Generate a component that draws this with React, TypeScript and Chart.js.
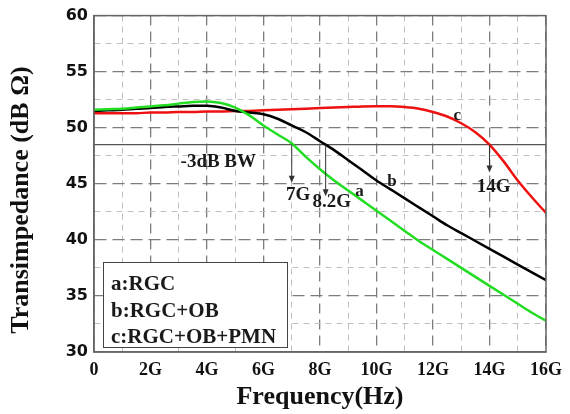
import React, { useEffect, useRef } from 'react';
import { Chart, registerables } from 'chart.js';
Chart.register(...registerables);

// Frequency in GHz
const freqG = [0, 0.5, 1, 1.5, 2, 2.5, 3, 3.5, 4, 4.5, 5, 5.5, 6, 6.5, 7, 7.5, 8, 8.5, 9, 9.5, 10, 10.5, 11, 11.5, 12, 12.5, 13, 13.5, 14, 14.5, 15, 15.5, 16];
// a: RGC (green)
const seriesA = [51.6, 51.65, 51.7, 51.8, 51.9, 52.0, 52.15, 52.3, 52.35, 52.2, 51.8, 51.1, 50.2, 49.4, 48.6, 47.4, 46.3, 45.3, 44.4, 43.5, 42.6, 41.7, 40.8, 39.9, 39.1, 38.3, 37.5, 36.7, 35.9, 35.1, 34.3, 33.5, 32.8];
// b: RGC+OB (black)
const seriesB = [51.5, 51.55, 51.6, 51.7, 51.75, 51.85, 51.9, 51.95, 51.95, 51.8, 51.5, 51.35, 51.2, 50.8, 50.2, 49.6, 48.8, 48.0, 47.1, 46.2, 45.3, 44.5, 43.7, 42.9, 42.1, 41.3, 40.6, 39.9, 39.2, 38.5, 37.8, 37.1, 36.4];
// c: RGC+OB+PMN (red)
const seriesC = [51.3, 51.3, 51.3, 51.3, 51.35, 51.35, 51.4, 51.4, 51.45, 51.45, 51.5, 51.5, 51.55, 51.6, 51.65, 51.7, 51.75, 51.8, 51.85, 51.9, 51.92, 51.92, 51.85, 51.7, 51.4, 51.0, 50.4, 49.6, 48.5, 47.0, 45.3, 43.8, 42.4];

const bwLevel = 48.5;
const bwRange = [0, 16];

const legendLines = ['a:RGC', 'b:RGC+OB', 'c:RGC+OB+PMN'];

const arrowFreq = [7, 8.2, 14];
const arrowTip = [45.1, 43.9, 46.0];

const noteText = ['-3dB BW', '7G', '8.2G', '14G', 'a', 'b', 'c'];
const noteX = [4.4, 7.23, 8.42, 14.15, 9.4, 10.55, 12.86];
const noteY = [46.9, 44.0, 43.4, 44.7, 44.3, 45.2, 51.1];

const xTitle = 'Frequency(Hz)';
const yTitle = 'Transimpedance (dB Ω)     ';

const SERIF = '"Liberation Serif", "Times New Roman", serif';

const overlay = {
  id: 'overlay',
  afterDatasetsDraw(chart: any) {
    const { ctx, chartArea, scales } = chart;
    const xs = scales.x, ys = scales.y;
    ctx.save();
    // arrows
    ctx.strokeStyle = '#333';
    ctx.fillStyle = '#333';
    ctx.lineWidth = 1;
    arrowFreq.forEach((f, i) => {
      const px = xs.getPixelForValue(f);
      const y0 = ys.getPixelForValue(bwLevel);
      const y1 = ys.getPixelForValue(arrowTip[i]);
      ctx.beginPath();
      ctx.moveTo(px, y0);
      ctx.lineTo(px, y1 - 6);
      ctx.stroke();
      ctx.beginPath();
      ctx.moveTo(px - 3, y1 - 7);
      ctx.lineTo(px + 3, y1 - 7);
      ctx.lineTo(px, y1);
      ctx.closePath();
      ctx.fill();
    });
    // notes
    ctx.fillStyle = '#1a1a1a';
    ctx.textAlign = 'center';
    ctx.textBaseline = 'middle';
    noteText.forEach((t, i) => {
      ctx.font = (t.length === 1 ? 'bold 17px ' : 'bold 19px ') + SERIF;
      ctx.fillText(t, xs.getPixelForValue(noteX[i]), ys.getPixelForValue(noteY[i]));
    });
    // frame
    ctx.strokeStyle = '#666';
    ctx.lineWidth = 1.5;
    ctx.strokeRect(chartArea.left, chartArea.top, chartArea.right - chartArea.left, chartArea.bottom - chartArea.top);
    // legend box
    const bx = chartArea.left + 9;
    const by = chartArea.bottom - 90;
    const bw = 184, bh = 85;
    ctx.fillStyle = '#fff';
    ctx.fillRect(bx, by, bw, bh);
    ctx.strokeStyle = '#444';
    ctx.lineWidth = 1;
    ctx.strokeRect(bx + 0.5, by + 0.5, bw, bh);
    ctx.fillStyle = '#1a1a1a';
    ctx.textAlign = 'left';
    ctx.font = 'bold 21px ' + SERIF;
    legendLines.forEach((t, i) => {
      ctx.fillText(t, bx + 8, by + 23 + i * 26.5);
    });
    ctx.restore();
  },
};

export default function App() {
  const ref = useRef<HTMLCanvasElement>(null);
  useEffect(() => {
    if (!ref.current) return;
    const mk = (ys: number[]) => freqG.map((x, i) => ({ x, y: ys[i] }));
    const isMajorX = (v: number) => Math.abs(v % 2) < 1e-6;
    const isMajorY = (v: number) => Math.abs(v % 5) < 1e-6;
    const chart = new Chart(ref.current, {
      type: 'line',
      data: {
        datasets: [
          { label: 'a', data: mk(seriesA), borderColor: '#22dd22', borderWidth: 2.5, pointRadius: 0, tension: 0.4, cubicInterpolationMode: 'monotone' },
          { label: 'b', data: mk(seriesB), borderColor: '#000000', borderWidth: 2.5, pointRadius: 0, tension: 0.4, cubicInterpolationMode: 'monotone' },
          { label: 'c', data: mk(seriesC), borderColor: '#ee1111', borderWidth: 2.5, pointRadius: 0, tension: 0.4, cubicInterpolationMode: 'monotone' },
          { label: 'bw', data: bwRange.map((x) => ({ x, y: bwLevel })), borderColor: '#555', borderWidth: 1.3, pointRadius: 0 },
        ],
      } as any,
      options: {
        responsive: false,
        animation: false,
        layout: { padding: { top: 15, right: 18, bottom: 0, left: 0 } },
        plugins: { legend: { display: false }, tooltip: { enabled: false } },
        scales: {
          x: {
            type: 'linear',
            min: 0,
            max: 16,
            afterFit: (s: any) => { s.height = 62; },
            ticks: {
              stepSize: 1,
              autoSkip: false,
              maxRotation: 0,
              padding: 8,
              color: '#111',
              font: { family: SERIF, weight: 'bold', size: 18 },
              callback: (v: any) => (isMajorX(v) ? (v === 0 ? '0' : v + 'G') : ''),
            },
            grid: {
              drawTicks: false,
              color: (c: any) => (isMajorX(c.tick.value) ? '#7c7c7c' : '#c0c0c0'),
              lineWidth: (c: any) => (isMajorX(c.tick.value) ? 1.3 : 1),
            },
            border: {
              display: true,
              color: '#666',
              width: 1.5,
              dash: (c: any) => (c.tick && isMajorX(c.tick.value) ? [10, 6] : [6, 5]),
            },
            title: {
              display: true,
              text: xTitle,
              color: '#111',
              font: { family: SERIF, weight: 'bold', size: 26 },
              padding: { top: 0, bottom: 1 },
            },
          },
          y: {
            type: 'linear',
            min: 30,
            max: 60,
            afterFit: (s: any) => { s.width = 94; },
            ticks: {
              stepSize: 2.5,
              autoSkip: false,
              padding: 6,
              color: '#111',
              font: { family: '"DejaVu Sans", sans-serif', weight: 'bold', size: 16 },
              callback: (v: any) => (isMajorY(v) ? String(v) : ''),
            },
            grid: {
              drawTicks: false,
              color: (c: any) => (isMajorY(c.tick.value) ? '#7c7c7c' : '#c0c0c0'),
              lineWidth: (c: any) => (isMajorY(c.tick.value) ? 1.3 : 1),
            },
            border: {
              display: true,
              color: '#666',
              width: 1.5,
              dash: (c: any) => (c.tick && isMajorY(c.tick.value) ? [12, 6] : [6, 5]),
            },
            title: {
              display: true,
              text: yTitle,
              color: '#111',
              font: { family: SERIF, weight: 'bold', size: 26 },
              padding: { top: 6, bottom: 0 },
            },
          },
        },
      } as any,
      plugins: [overlay],
    });
    return () => chart.destroy();
  }, []);
  return (
    <div style={{ position: 'absolute', left: 0, top: 0, width: 570, height: 414, background: '#fff' }}>
      <canvas ref={ref} width={570} height={414} style={{ display: 'block' }} />
    </div>
  );
}
